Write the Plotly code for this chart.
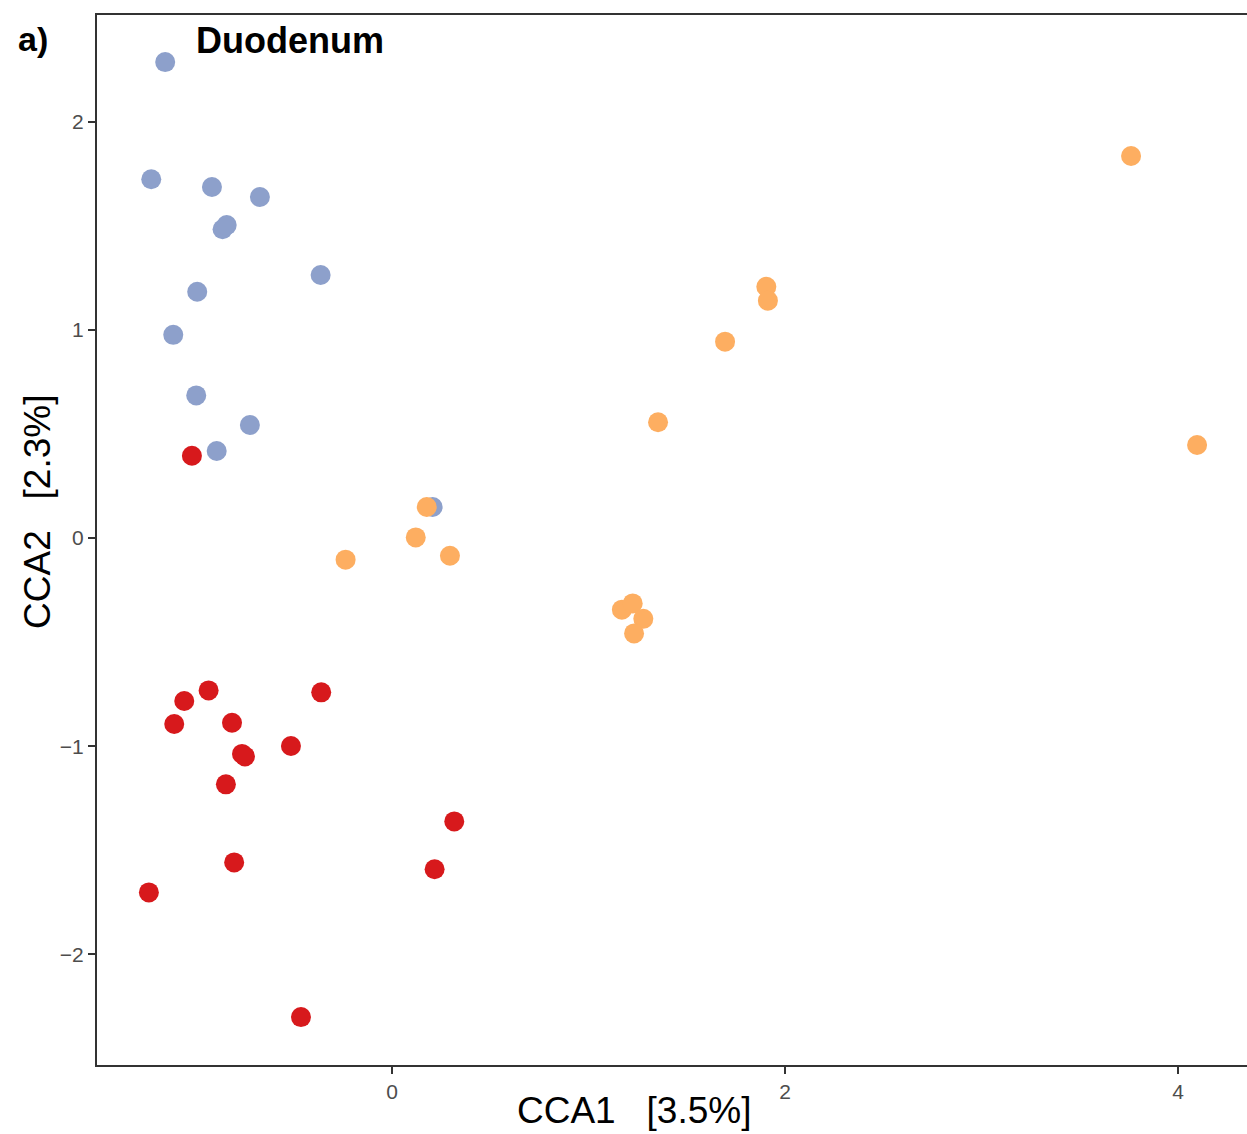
import plotly.graph_objects as go

# Data (CCA1, CCA2)
red_x = [-1.057, -0.933, -1.108, -0.814, -0.763, -0.748, -0.845, -0.514, -0.360, 0.317, 0.217, -0.803, -1.237, -0.463, -1.018]
red_y = [-0.783, -0.732, -0.893, -0.887, -1.037, -1.049, -1.183, -0.999, -0.741, -1.361, -1.591, -1.558, -1.702, -2.301, 0.395]

blue_x = [-1.154, -1.225, -0.916, -0.672, -0.862, -0.841, -0.363, -0.991, -1.113, -0.996, -0.723, -0.892, 0.207]
blue_y = [2.286, 1.723, 1.686, 1.638, 1.483, 1.503, 1.263, 1.183, 0.976, 0.685, 0.543, 0.418, 0.149]

orange_x = [3.761, 4.097, 1.905, 1.913, 1.695, 1.354, 0.177, 0.121, -0.236, 0.295, 1.170, 1.225, 1.279, 1.232]
orange_y = [1.835, 0.447, 1.207, 1.140, 0.943, 0.556, 0.149, 0.003, -0.104, -0.085, -0.344, -0.314, -0.388, -0.458]

x_ticks = [0, 2, 4]
y_ticks = [-2, -1, 0, 1, 2]

FONT = "Liberation Sans, Arial, sans-serif"

fig = go.Figure()
for xs, ys, col in [(red_x, red_y, "#D7191C"), (blue_x, blue_y, "#8DA0CB"), (orange_x, orange_y, "#FDAE61")]:
    fig.add_trace(go.Scatter(x=xs, y=ys, mode="markers",
                             marker=dict(size=20, color=col, line=dict(width=0)),
                             showlegend=False, hoverinfo="skip"))

axis_common = dict(showgrid=False, zeroline=False, showline=True, linecolor="#333333", linewidth=2,
                   ticks="outside", ticklen=7, tickwidth=2, tickcolor="#333333",
                   tickfont=dict(family=FONT, size=21, color="#4D4D4D"))

fig.update_xaxes(range=[-1.501, 4.351], tickvals=x_ticks, mirror=True, **axis_common)
fig.update_yaxes(range=[-2.531, 2.512], tickvals=y_ticks, mirror=False, **axis_common)

fig.update_layout(
    width=1247, height=1134,
    margin=dict(l=97, r=0, t=15, b=69),
    plot_bgcolor="white", paper_bgcolor="white",
    annotations=[
        dict(text="CCA1   [3.5%]", xref="paper", yref="paper", x=0.467, y=-0.0429,
             xanchor="center", yanchor="middle", showarrow=False,
             font=dict(family=FONT, size=37, color="black")),
        dict(text="CCA2   [2.3%]", xref="paper", yref="paper", x=-0.0513, y=0.5267,
             xanchor="center", yanchor="middle", textangle=-90, showarrow=False,
             font=dict(family=FONT, size=37, color="black")),
        dict(text="<b>Duodenum</b>", xref="paper", yref="paper", x=0.0843, y=0.976,
             xanchor="left", yanchor="middle", showarrow=False,
             font=dict(family=FONT, size=36, color="black")),
        dict(text="<b>a)</b>", xref="paper", yref="paper", x=-0.0705, y=0.977,
             xanchor="left", yanchor="middle", showarrow=False,
             font=dict(family=FONT, size=34, color="black")),
    ],
)

fig.write_html("out.html")
